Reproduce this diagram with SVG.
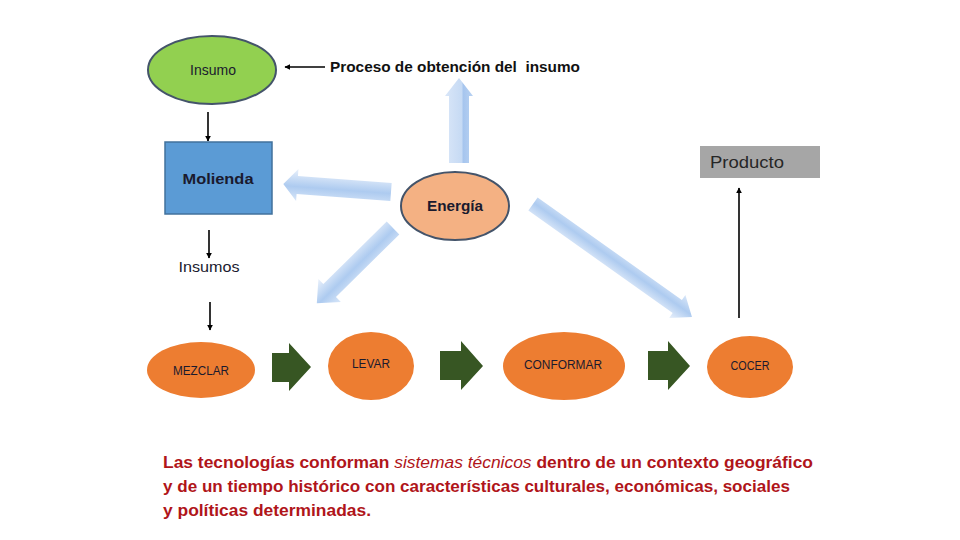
<svg xmlns="http://www.w3.org/2000/svg" width="960" height="540" viewBox="0 0 960 540">
<defs>
<linearGradient id="blueG" x1="0" y1="0" x2="0" y2="1">
<stop offset="0" stop-color="#d6e5f8"/>
<stop offset="0.45" stop-color="#a9c8ef"/>
<stop offset="1" stop-color="#e8f0fb"/>
</linearGradient>
<linearGradient id="blueUp" x1="0" y1="0" x2="1" y2="0">
<stop offset="0" stop-color="#d9e6f8"/>
<stop offset="0.6" stop-color="#c6daf4"/>
<stop offset="0.65" stop-color="#a6c5ee"/>
<stop offset="1" stop-color="#b9d2f2"/>
</linearGradient>
<marker id="ah" viewBox="0 0 10 10" refX="9" refY="5" markerWidth="6" markerHeight="6" markerUnits="userSpaceOnUse" orient="auto">
<path d="M0,0 L10,5 L0,10 z" fill="#000"/>
</marker>
</defs>
<style>
.lbl{font-family:"Liberation Sans",Arial,sans-serif;}
.node-txt{font-family:"Liberation Sans",Arial,sans-serif;fill:#1a1a2e;text-anchor:middle;}
.ell{stroke:#44546a;stroke-width:2;}
.orange{fill:#ed7d31;}
.green{fill:#375623;}
.blue{fill:url(#blueG);opacity:0.95;}
.line{stroke:#000;stroke-width:1.6;fill:none;marker-end:url(#ah);}
.red{font-family:"Liberation Sans",Arial,sans-serif;font-size:16px;font-weight:bold;fill:#b0151a;}
</style>

<g id="connectors">
<line class="line" x1="325" y1="67" x2="285" y2="67"/>
<line class="line" x1="208" y1="112" x2="208" y2="141"/>
<line class="line" x1="209" y1="230" x2="209" y2="258"/>
<line class="line" x1="210" y1="302" x2="210" y2="330"/>
<line class="line" x1="739" y1="318" x2="739" y2="188"/>
<polygon fill="url(#blueUp)" points="459,78 473,96 469,96 469,163 449,163 449,96 445,96"/>
<polygon class="blue" transform="translate(391,192) rotate(184.24)" points="0,-9 94,-9 94,-16 108,0 94,16 94,9 0,9"/>
<polygon class="blue" transform="translate(393,228) rotate(135.4)" points="0,-9 89,-9 89,-16 107,0 89,16 89,9 0,9"/>
<polygon class="blue" transform="translate(533,204) rotate(35.4)" points="0,-8 177,-8 177,-14 195,0 177,14 177,8 0,8"/>
<polygon class="green" points="272,353 289,353 289,343 311,367 289,391 289,382 272,382"/>
<polygon class="green" points="440,351 461,351 461,341 483,366 461,390 461,380 440,380"/>
<polygon class="green" points="648,351 668,351 668,341 690,366 668,390 668,380 648,380"/>
</g>

<g id="insumo">
<ellipse class="ell" cx="212" cy="70" rx="64" ry="34" fill="#92d050"/>
<text class="node-txt" x="213" y="75" font-size="14">Insumo</text>
</g>

<g id="proceso">
<text class="lbl" x="330" y="72" font-size="15" font-weight="bold" fill="#111" textLength="250" lengthAdjust="spacingAndGlyphs" xml:space="preserve">Proceso de obtención del  insumo</text>
</g>

<g id="molienda">
<rect x="165" y="142" width="107" height="72" fill="#5b9bd5" stroke="#41719c" stroke-width="1.5"/>
<text class="node-txt" x="218" y="184" font-size="15" font-weight="bold" textLength="71" lengthAdjust="spacingAndGlyphs">Molienda</text>
</g>

<g id="energia">
<ellipse class="ell" cx="455" cy="206" rx="54" ry="34" fill="#f4b183"/>
<text class="node-txt" x="455" y="211" font-size="14" font-weight="bold" textLength="56" lengthAdjust="spacingAndGlyphs">Energía</text>
</g>

<g id="producto">
<rect x="700" y="146" width="120" height="32" fill="#a6a6a6"/>
<text class="lbl" x="710" y="168" font-size="17" fill="#262626" textLength="74" lengthAdjust="spacingAndGlyphs">Producto</text>
</g>

<g id="insumos">
<text class="node-txt" x="209" y="272" font-size="14" fill="#111" textLength="61" lengthAdjust="spacingAndGlyphs">Insumos</text>
</g>

<g id="mezclar">
<ellipse cx="201" cy="370" rx="54" ry="28" class="orange"/>
<text class="node-txt" x="201" y="375" font-size="12" textLength="56" lengthAdjust="spacingAndGlyphs">MEZCLAR</text>
</g>

<g id="levar">
<ellipse cx="371" cy="366" rx="43" ry="34" class="orange"/>
<text class="node-txt" x="371" y="368" font-size="12" textLength="38" lengthAdjust="spacingAndGlyphs">LEVAR</text>
</g>

<g id="conformar">
<ellipse cx="564" cy="366" rx="61" ry="34" class="orange"/>
<text class="node-txt" x="563" y="369" font-size="12" textLength="78" lengthAdjust="spacingAndGlyphs">CONFORMAR</text>
</g>

<g id="cocer">
<ellipse cx="750" cy="367" rx="43" ry="31" class="orange"/>
<text class="node-txt" x="750" y="370" font-size="12" textLength="39" lengthAdjust="spacingAndGlyphs">COCER</text>
</g>

<g id="nota">
<text class="red" x="163" y="468" textLength="650" lengthAdjust="spacingAndGlyphs">Las tecnologías conforman <tspan font-style="italic" font-weight="normal">sistemas técnicos</tspan> dentro de un contexto geográfico</text>
<text class="red" x="163" y="492" textLength="627" lengthAdjust="spacingAndGlyphs">y de un tiempo histórico con características culturales, económicas, sociales</text>
<text class="red" x="163" y="516" textLength="208" lengthAdjust="spacingAndGlyphs">y políticas determinadas.</text>
</g>
</svg>
